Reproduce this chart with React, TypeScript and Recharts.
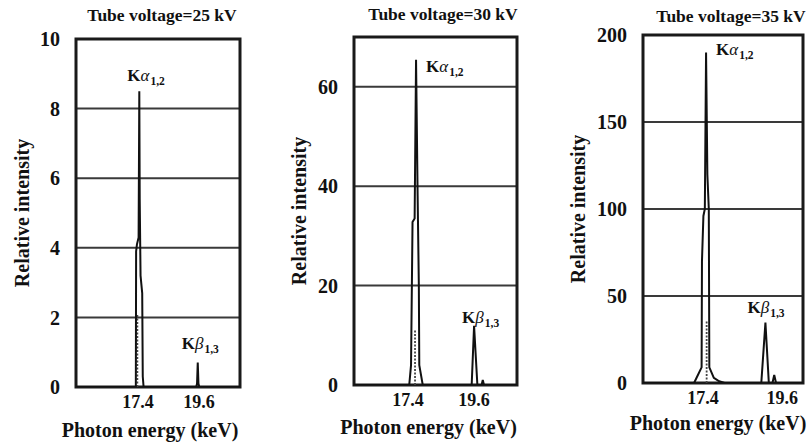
import React from "react";
import {
  LineChart,
  Line,
  XAxis,
  YAxis,
  CartesianGrid,
  ReferenceArea,
  ReferenceDot,
  Label,
} from "recharts";

const FONT = "Liberation Serif, DejaVu Serif, serif";

// photon energy (keV) / relative intensity
const energy25 = [15.16, 17.32, 17.33, 17.36, 17.42, 17.445, 17.46, 17.49, 17.55, 17.57, 17.6, 19.5, 19.53, 19.555, 19.58, 19.61, 21.08];
const intensity25 = [0, 0, 3.9, 4.1, 4.3, 8.5, 5.4, 3.2, 2.7, 0.3, 0, 0, 0.1, 0.7, 0.1, 0, 0];
const dotEnergy25 = [17.375, 17.375];
const dotIntensity25 = [0, 2.1];

const energy30 = [15.6, 17.44, 17.5, 17.55, 17.62, 17.667, 17.72, 17.76, 17.775, 17.89, 19.52, 19.6, 19.71, 19.85, 19.89, 19.93, 21.03];
const intensity30 = [0, 0, 4, 32.8, 33.5, 65.4, 38, 20, 4, 0, 0, 11.9, 0, 0, 1, 0, 0];
const dotEnergy30 = [17.633, 17.633];
const dotIntensity30 = [0, 11];

const energy35 = [15.73, 17.15, 17.22, 17.36, 17.37, 17.41, 17.45, 17.484, 17.52, 17.56, 17.575, 17.7, 17.85, 18.0, 19.02, 19.135, 19.23, 19.33, 19.38, 19.43, 20.18];
const intensity35 = [0, 0, 3, 9, 70, 96, 100, 190, 120, 100, 9, 3, 1, 0, 0, 34.7, 0, 0, 4.6, 0, 0];
const dotEnergy35 = [17.5, 17.5];
const dotIntensity35 = [0, 36];

const xTicks = [17.4, 19.6];
const yTicks25 = [0, 2, 4, 6, 8, 10];
const yTicks30 = [0, 20, 40, 60];
const yTicks35 = [0, 50, 100, 150, 200];

const zip = (es: number[], vs: number[]) => es.map((e, i) => ({ e, v: vs[i] }));

const peakOf = (es: number[], vs: number[], lo: number, hi: number) => {
  let best = { e: es[0], v: -1 };
  es.forEach((e, i) => {
    if (e >= lo && e <= hi && vs[i] > best.v) best = { e, v: vs[i] };
  });
  return best;
};

const boldText = { fontFamily: FONT, fontWeight: 700 };

function PeakText({ x, y, greek, sub }: any) {
  return (
    <text x={x} y={y} style={{ ...boldText, fontSize: 17 }} fill="#111">
      <tspan>K</tspan>
      <tspan style={{ fontStyle: "italic", fontWeight: 400 }}>{greek}</tspan>
      <tspan style={{ fontSize: 11.5 }} dy={4} dx={1}>{sub}</tspan>
    </text>
  );
}

function Panel(p: any) {
  const data = zip(p.energy, p.intensity);
  const dots = zip(p.dotEnergy, p.dotIntensity);
  const ka = peakOf(p.energy, p.intensity, 17, 18);
  const kb = peakOf(p.energy, p.intensity, 18.5, 20);
  const chartH = 445;
  return (
    <div style={{ position: "absolute", left: p.left, top: 0, width: p.width, height: chartH }}>
      <div
        style={{
          position: "absolute",
          left: p.titleX - p.left - 110,
          width: 220,
          top: p.titleTop,
          textAlign: "center",
          ...boldText,
          fontSize: 17.5,
          whiteSpace: "nowrap",
          color: "#111",
        }}
      >
        {p.title}
      </div>
      <LineChart
        width={p.width}
        height={chartH}
        margin={{ top: p.top, right: p.right, bottom: 0, left: 0 }}
      >
        <CartesianGrid vertical={false} stroke="#3a3a3a" strokeWidth={2} />
        <XAxis
          type="number"
          dataKey="e"
          domain={p.xDomain}
          ticks={xTicks}
          allowDataOverflow
          height={p.xAxisHeight}
          axisLine={false}
          tickLine={false}
          tick={{ fill: "#111", fontSize: 18, style: { ...boldText, fontSize: 18 } }}
          tickFormatter={(v: number) => v.toFixed(1)}
        >
          <Label
            content={({ viewBox }: any) => (
              <text
                x={viewBox.x + viewBox.width / 2 + p.xLabelDx}
                y={viewBox.y + p.xLabelDy}
                textAnchor="middle"
                style={{ ...boldText, fontSize: 20 }}
                fill="#111"
              >
                Photon energy (keV)
              </text>
            )}
          />
        </XAxis>
        <YAxis
          type="number"
          domain={p.yDomain}
          ticks={p.yTicks}
          allowDataOverflow
          width={p.yAxisWidth}
          axisLine={false}
          tickLine={false}
          tickMargin={10}
          tick={{ fill: "#111", fontSize: 20, style: { ...boldText, fontSize: 20 } }}
        >
          <Label
            content={({ viewBox }: any) => {
              const cx = viewBox.x + p.yLabelX;
              const cy = viewBox.y + viewBox.height / 2;
              return (
                <text
                  x={cx}
                  y={cy}
                  transform={`rotate(-90, ${cx}, ${cy})`}
                  textAnchor="middle"
                  dominantBaseline="central"
                  style={{ ...boldText, fontSize: 20 }}
                  fill="#111"
                >
                  Relative intensity
                </text>
              );
            }}
          />
        </YAxis>
        <ReferenceArea
          x1={p.xDomain[0]}
          x2={p.xDomain[1]}
          y1={p.yDomain[0]}
          y2={p.yDomain[1]}
          fill="none"
          stroke="#1a1a1a"
          strokeWidth={3}
        />
        <Line
          data={dots}
          dataKey="v"
          type="linear"
          stroke="#444"
          strokeWidth={1.8}
          strokeDasharray="2 1.5"
          dot={false}
          isAnimationActive={false}
        />
        <Line
          data={data}
          dataKey="v"
          type="linear"
          stroke="#111"
          strokeWidth={2}
          dot={false}
          isAnimationActive={false}
        />
        <ReferenceDot
          x={ka.e}
          y={ka.v}
          r={0}
          stroke="none"
          label={{
            content: ({ viewBox }: any) => (
              <PeakText x={viewBox.x + p.kaDx} y={viewBox.y + p.kaDy} greek="α" sub="1,2" />
            ),
          }}
        />
        <ReferenceDot
          x={kb.e}
          y={kb.v}
          r={0}
          stroke="none"
          label={{
            content: ({ viewBox }: any) => (
              <PeakText x={viewBox.x + p.kbDx} y={viewBox.y + p.kbDy} greek="β" sub="1,3" />
            ),
          }}
        />
      </LineChart>
    </div>
  );
}

export default function App() {
  return (
    <div style={{ position: "absolute", left: 0, top: 0, width: 808, height: 445, background: "#fff", overflow: "hidden" }}>
      <Panel
        title="Tube voltage=25 kV"
        titleX={162}
        titleTop={5}
        energy={energy25}
        intensity={intensity25}
        dotEnergy={dotEnergy25}
        dotIntensity={dotIntensity25}
        xDomain={[15.16, 21.08]}
        yDomain={[0, 10]}
        yTicks={yTicks25}
        left={0}
        width={250}
        yAxisWidth={76}
        right={10}
        top={39}
        xAxisHeight={58}
        yLabelX={22}
        xLabelDx={-8}
        xLabelDy={50}
        kaDx={-12}
        kaDy={-10}
        kbDx={-16}
        kbDy={-14}
      />
      <Panel
        title="Tube voltage=30 kV"
        titleX={443}
        titleTop={4}
        energy={energy30}
        intensity={intensity30}
        dotEnergy={dotEnergy30}
        dotIntensity={dotIntensity30}
        xDomain={[15.6, 21.03]}
        yDomain={[0, 70]}
        yTicks={yTicks30}
        left={270}
        width={260}
        yAxisWidth={84}
        right={13}
        top={37}
        xAxisHeight={60}
        yLabelX={29}
        xLabelDx={-7}
        xLabelDy={49}
        kaDx={10}
        kaDy={12}
        kbDx={-12}
        kbDy={-3}
      />
      <Panel
        title="Tube voltage=35 kV"
        titleX={731}
        titleTop={6}
        energy={energy35}
        intensity={intensity35}
        dotEnergy={dotEnergy35}
        dotIntensity={dotIntensity35}
        xDomain={[15.73, 20.18]}
        yDomain={[0, 200]}
        yTicks={yTicks35}
        left={540}
        width={268}
        yAxisWidth={103}
        right={5}
        top={35}
        xAxisHeight={62}
        yLabelX={38}
        xLabelDx={-5}
        xLabelDy={47}
        kaDx={10}
        kaDy={3}
        kbDx={-18}
        kbDy={-10}
      />
    </div>
  );
}
